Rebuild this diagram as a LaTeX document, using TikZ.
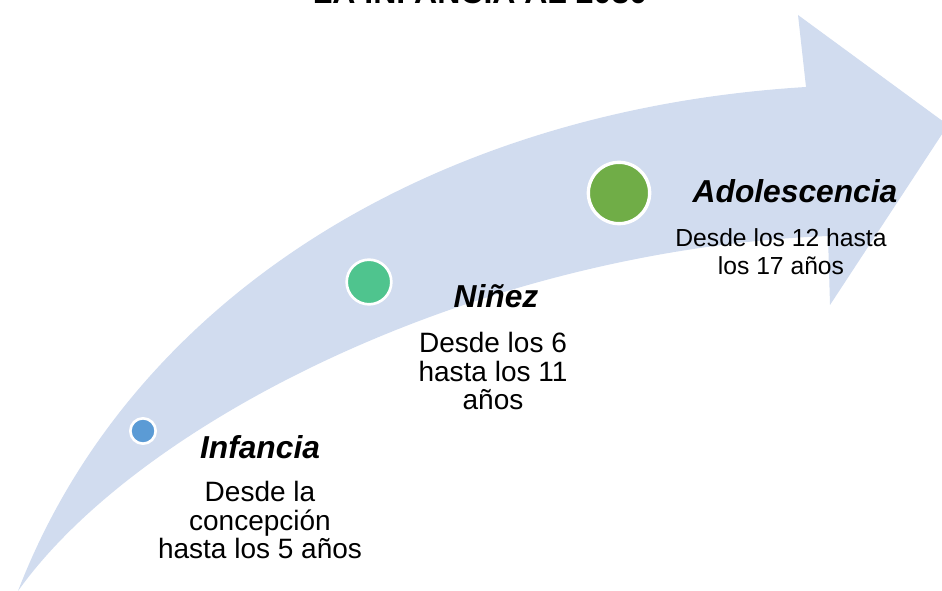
\documentclass[tikz,border=0pt]{standalone}
\usepackage{fontspec}
\setmainfont{Liberation Sans}
\definecolor{bandfill}{RGB}{209,220,239}
\definecolor{infblue}{RGB}{91,155,213}
\definecolor{ninteal}{RGB}{79,196,142}
\definecolor{adogreen}{RGB}{112,173,71}
\tikzset{
	stage/.style={font=\fontsize{23.8}{28}\selectfont\bfseries\itshape, inner sep=0pt, anchor=base},
	desc/.style={font=\fontsize{18.5}{21.4}\selectfont, align=center, inner sep=0pt, anchor=north},
	bigdesc/.style={desc, font=\fontsize{21}{21.4}\selectfont},
	dot/.style={circle, draw=white, line width=2pt, inner sep=0pt}
}
\begin{document}
\begin{tikzpicture}[x=0.75pt,y=-0.75pt]
	\useasboundingbox (0,0) rectangle (942,591);
	\clip (0,0) rectangle (942,591);
	% the curved band
	\fill[bandfill] (18,591) .. controls (130,300) and (430,110) .. (806,87) -- (798,15) -- (948,125) -- (830,305) -- (828,236) .. controls (480,250) and (140,420) .. (18,591) -- cycle;
	\node[font=\fontsize{24}{28}\selectfont\bfseries, inner sep=0pt, anchor=base] (title) at (480,4) {LA INFANCIA AL 2030};
	\node[dot, fill=infblue, minimum size=19pt] (infdot) at (143,431) {};
	\node[dot, fill=ninteal, minimum size=33.5pt] (nindot) at (369,282) {};
	\node[dot, fill=adogreen, minimum size=46pt, line width=2.5pt] (adodot) at (619,193) {};
	\node[stage] (infancia) at (260,458) {Infancia};
	\node[bigdesc] (infdesc) at (260,481) {Desde la\\concepción\\hasta los 5 años};
	\node[stage] (ninez) at (496,308) {Niñez};
	\node[bigdesc] (nindesc) at (493,332) {Desde los 6\\hasta los 11\\años};
	\node[stage] (adolescencia) at (795,203) {Adolescencia};
	\node[desc] (adodesc) at (781,228) {Desde los 12 hasta\\los 17 años};
\end{tikzpicture}
\end{document}
